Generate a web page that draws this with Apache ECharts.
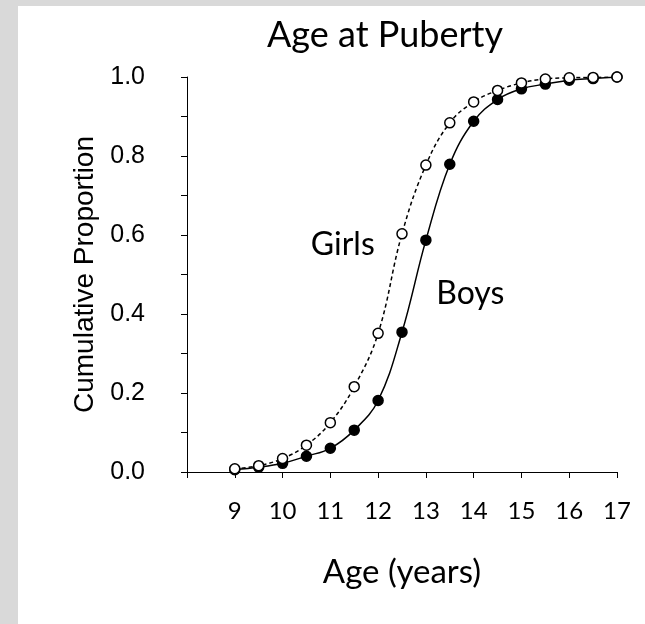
<!DOCTYPE html>
<html>
<head>
<meta charset="utf-8">
<script src="https://cdn.jsdelivr.net/npm/echarts@6/dist/echarts.min.js"></script>
<style>
html,body{margin:0;padding:0;background:#d9d9d9;width:645px;height:624px;overflow:hidden;}
#chart{position:absolute;left:18px;top:6px;width:627px;height:618px;background:#fff;}
</style>
</head>
<body>
<div id="chart"></div>
<script>
// Data
const ages = [9, 9.5, 10, 10.5, 11, 11.5, 12, 12.5, 13, 13.5, 14, 14.5, 15, 15.5, 16, 16.5, 17];
const girls = [0.008, 0.016, 0.034, 0.068, 0.125, 0.216, 0.351, 0.603, 0.777, 0.884, 0.937, 0.966, 0.985, 0.995, 0.998, 0.999, 1.0];
const boys = [0.006, 0.012, 0.022, 0.040, 0.060, 0.106, 0.181, 0.354, 0.587, 0.779, 0.888, 0.943, 0.970, 0.982, 0.992, 0.996, 1.0];
const seriesNames = ['Boys', 'Girls'];
const labelPos = { Girls: [11.26, 0.575], Boys: [13.93, 0.452] };
const xTicks = [8, 9, 10, 11, 12, 13, 14, 15, 16, 17];
const yTicks = [0, 0.2, 0.4, 0.6, 0.8, 1.0];

const calibri = 'Lato, "Open Sans", sans-serif';
const arial = '"Liberation Sans", Arial, sans-serif';

const chart = echarts.init(document.getElementById('chart'), null, { renderer: 'canvas' });

function pairs(xs, ys) { return xs.map((x, i) => [x, ys[i]]); }

function makeSeries(name, ys, dashed, filled) {
  return {
    name: name,
    type: 'line',
    data: pairs(ages, ys),
    smooth: 0.4,
    symbol: 'circle',
    symbolSize: 10,
    showAllSymbol: true,
    lineStyle: { color: '#000', width: 1.5, type: dashed ? [4, 3] : 'solid' },
    itemStyle: { color: filled ? '#000' : '#fff', borderColor: '#000', borderWidth: 1.5 },
    z: filled ? 2 : 3,
    markPoint: {
      symbol: 'circle',
      symbolSize: 0,
      silent: true,
      data: [{ coord: labelPos[name], value: name }],
      label: {
        show: true, position: 'inside', formatter: name,
        fontFamily: calibri, fontSize: 32, color: '#000'
      }
    },
    animation: false
  };
}

chart.setOption({
  animation: false,
  backgroundColor: '#fff',
  title: {
    text: 'Age at Puberty',
    left: 362,
    top: 6,
    textAlign: 'center',
    textStyle: { fontFamily: calibri, fontSize: 36, fontWeight: 'normal', color: '#000' }
  },
  grid: { left: 169, right: 28, top: 71, bottom: 152, containLabel: false, outerBoundsMode: 'none' },
  xAxis: {
    type: 'value',
    min: xTicks[0], max: xTicks[xTicks.length - 1], interval: 1,
    name: 'Age (years)',
    nameLocation: 'middle',
    nameGap: 84,
    nameTextStyle: { fontFamily: calibri, fontSize: 33, color: '#000' },
    axisLine: { show: true, onZero: false, lineStyle: { color: '#000', width: 1 } },
    axisTick: { show: true, inside: false, length: 6, lineStyle: { color: '#000' } },
    axisLabel: {
      margin: 27, fontFamily: calibri, fontSize: 24, color: '#000',
      formatter: v => (v === xTicks[0] ? '' : String(v))
    },
    splitLine: { show: false }
  },
  yAxis: {
    type: 'value',
    min: yTicks[0], max: yTicks[yTicks.length - 1], interval: 0.2,
    name: 'Cumulative Proportion',
    nameLocation: 'middle',
    nameGap: 79,
    nameTextStyle: { fontFamily: arial, fontSize: 28, color: '#000' },
    axisLine: { show: true, onZero: false, lineStyle: { color: '#000', width: 1 } },
    axisTick: { show: true, inside: false, length: 6, lineStyle: { color: '#000' } },
    minorTick: { show: true, splitNumber: 2, length: 6, lineStyle: { color: '#000' } },
    axisLabel: {
      margin: 42, fontFamily: arial, fontSize: 25, color: '#000',
      formatter: v => v.toFixed(1)
    },
    splitLine: { show: false },
    minorSplitLine: { show: false }
  },
  series: [
    makeSeries(seriesNames[0], boys, false, true),
    makeSeries(seriesNames[1], girls, true, false)
  ]
});
</script>
</body>
</html>
